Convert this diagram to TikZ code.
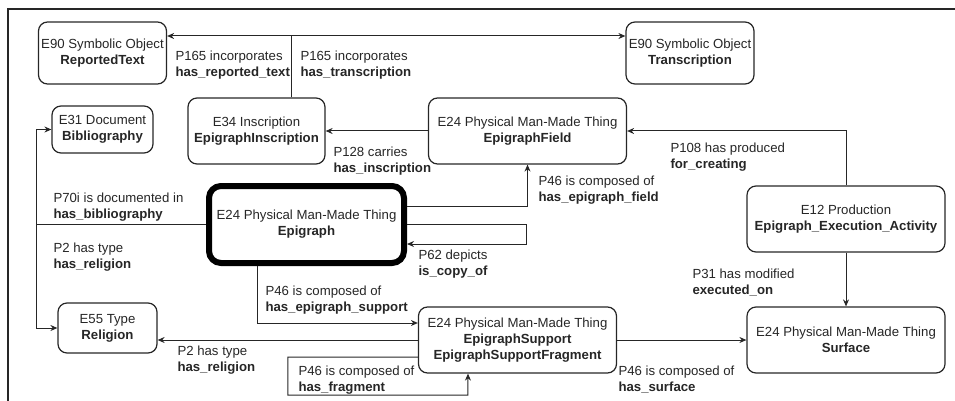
\documentclass[tikz,border=0pt]{standalone}
\usepackage{fontspec}
\setmainfont{Liberation Sans}
\usetikzlibrary{positioning, arrows.meta}

\begin{document}
\begin{tikzpicture}[x=1pt, y=-1pt, on grid, line width=1pt, black!85, >={Stealth[length=7pt,width=6pt]}]
        \tikzset{every node/.style={font=\fontsize{13.2}{16}\selectfont, text=black!85}}
        % Define attributes for the class boxes and the property labels
        \tikzset{entity/.style={draw, line width=1.2pt, rounded corners=9pt, align=center, inner sep=2pt, minimum width=198pt, minimum height=66pt}}
        \tikzset{lbl/.style={anchor=north west, align=left, inner sep=0pt}}

        \useasboundingbox (0,0) rectangle (955,401);
        \draw[line width=1.2pt] (8,401) -- (8,9) -- (955,9);

        \node[entity, line width=6pt, rounded corners=12pt, minimum width=195pt, minimum height=77pt, draw=black] (epigraph) at (306.5,224.5) {E24 Physical Man-Made Thing\\\textbf{Epigraph}};
        \node[entity] (field) [above right=93.5pt and 221pt of epigraph] {E24 Physical Man-Made Thing\\\textbf{EpigraphField}};
        \node[entity, minimum width=137pt] (inscription) [left=271pt of field] {E34 Inscription\\\textbf{EpigraphInscription}};
        \node[entity, minimum width=128pt, minimum height=62pt] (reported) [above left=78pt and 154pt of inscription] {E90 Symbolic Object\\\textbf{ReportedText}};
        \node[entity, minimum width=128pt, minimum height=62pt] (transcription) [right=587.5pt of reported] {E90 Symbolic Object\\\textbf{Transcription}};
        \node[entity, minimum width=101pt, minimum height=47pt] (bibliography) [below=76.5pt of reported] {E31 Document\\\textbf{Bibliography}};
        \node[entity, minimum width=99pt, minimum height=50pt] (religion) [below right=198.5pt and 5pt of bibliography] {E55 Type\\\textbf{Religion}};
        \node[entity] (support) [below right=115.5pt and 211pt of epigraph] {E24 Physical Man-Made Thing\\\textbf{EpigraphSupport}\\\textbf{EpigraphSupportFragment}};
        \node[entity] (surface) [right=328.5pt of support] {E24 Physical Man-Made Thing\\\textbf{Surface}};
        \node[entity] (production) [above=121pt of surface] {E12 Production\\\textbf{Epigraph\_Execution\_Activity}};

        \draw[->] ([xshift=34.5pt]inscription.north) |- ([yshift=17pt]reported.east);
        \draw[->] ([xshift=34.5pt]inscription.north) |- ([yshift=17pt]transcription.west);
        \path[->] (field) edge (inscription);
        \draw[->] ([yshift=18.5pt]epigraph.east) -| (field.south);
        \draw[->] (epigraph.east) -- ++(119,0) |- ([yshift=-19.5pt]epigraph.east);
        \draw[->] (production.north) |- (field.east);
        \path[->] (production) edge (surface);
        \draw (epigraph.west) -- ++(-170,0) coordinate (fork);
        \draw[->] (fork) |- (bibliography.west);
        \draw[->] (fork) |- (religion.west);
        \draw[->] ([xshift=-49.5pt]epigraph.south) |- ([yshift=17pt]support.west);
        \draw[->] (support.west) -- (support.west -| religion.east);
        \draw[->] ([yshift=-17pt]support.west) -- ++(-130,0) |- ++(180,38) -- ([xshift=-49.5pt]support.south);
        \path[->] (support) edge (surface);

        \node[lbl] (l_reported) at (175,50) {P165 incorporates\\\textbf{has\_reported\_text}};
        \node[lbl] (l_transcription) at (300,50) {P165 incorporates\\\textbf{has\_transcription}};
        \node[lbl] (l_inscription) at (333,146) {P128 carries\\\textbf{has\_inscription}};
        \node[lbl] (l_creating) at (670,142) {P108 has produced\\\textbf{for\_creating}};
        \node[lbl] (l_field) at (538,175) {P46 is composed of\\\textbf{has\_epigraph\_field}};
        \node[lbl] (l_copy) at (418,249) {P62 depicts\\\textbf{is\_copy\_of}};
        \node[lbl] (l_bibliography) at (53,192) {P70i is documented in\\\textbf{has\_bibliography}};
        \node[lbl] (l_religion) at (53,242) {P2 has type\\\textbf{has\_religion}};
        \node[lbl] (l_support) at (265,285) {P46 is composed of\\\textbf{has\_epigraph\_support}};
        \node[lbl] (l_type) at (177,345) {P2 has type\\\textbf{has\_religion}};
        \node[lbl] (l_fragment) at (298,365) {P46 is composed of\\\textbf{has\_fragment}};
        \node[lbl] (l_modified) at (692,268) {P31 has modified\\\textbf{executed\_on}};
        \node[lbl] (l_surface) at (618,365) {P46 is composed of\\\textbf{has\_surface}};
\end{tikzpicture}
\end{document}
